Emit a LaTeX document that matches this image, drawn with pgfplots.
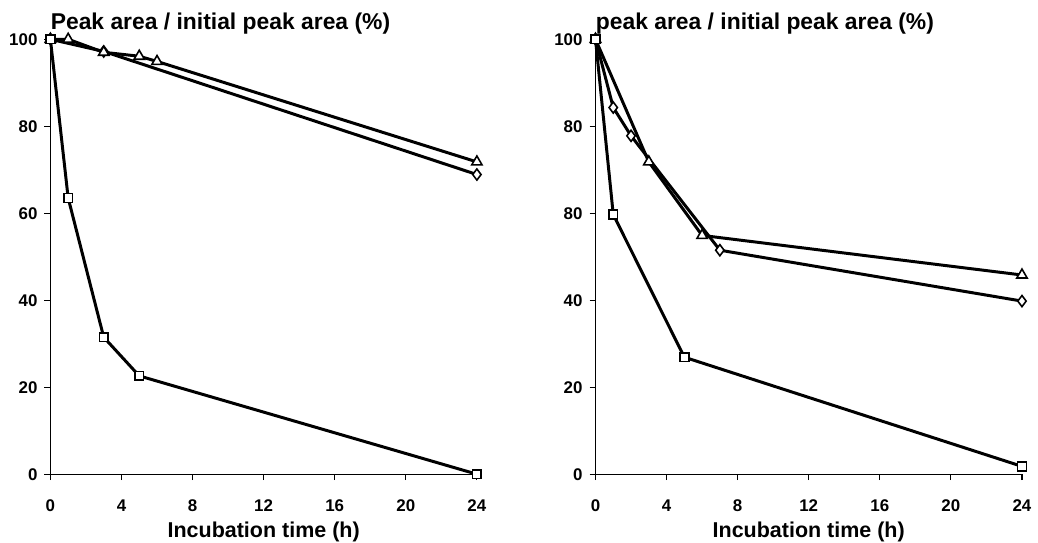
\documentclass[border=0pt]{standalone}
\usepackage{fontspec}
\setmainfont{Liberation Sans}
\usepackage{pgfplots}
\pgfplotsset{compat=1.18}

\pgfplotsset{
  panel/.style={
    scale only axis,
    width=214.5pt, height=218.75pt,
    xmin=0, xmax=24, ymin=0, ymax=100,
    axis x line*=bottom, axis y line*=left,
    axis line style={line width=0.6pt, -},
    xtick={0,4,...,24}, ytick={0,20,...,100},
    tick align=outside, major tick length=3pt,
    tick style={line width=0.6pt, black},
    /pgf/number format/assume math mode=true,
    ticklabel style={font=\fontsize{8.5}{10}\selectfont\bfseries},
    xticklabel style={yshift=-6.5pt},
    title style={at={(axis description cs:0,1)}, anchor=base west,
      yshift=-1.25pt, font=\fontsize{11.5}{13}\selectfont\bfseries, inner sep=0pt},
    xlabel style={at={(axis description cs:0.5,0)}, anchor=base,
      yshift=-32pt, font=\fontsize{10.8}{13}\selectfont\bfseries, inner sep=0pt},
    xlabel={Incubation time (h)},
    clip=false,
  },
  ln/.style={black, line width=1.5pt,
    mark options={solid, draw=black, fill=white, line width=0.8pt}},
  sq/.style={ln, mark=square*, mark size=2.2pt},
  tr/.style={ln, mark=triangle*, mark size=3pt},
  di/.style={ln, mark=diamond*, mark size=2.8pt},
}

\begin{document}
\begin{tikzpicture}
\begin{axis}[panel, at={(0pt,0pt)}, anchor=south west,
  title={Peak area / initial peak area (\%)}]
\addplot[di] coordinates {(0,100) (3,97.2) (24,68.9)};
\addplot[tr] coordinates {(0,100) (1,100) (3,97) (5,96.1) (6,94.9) (24,71.8)};
\addplot[sq] coordinates {(0,100) (1,63.5) (3,31.5) (5,22.6) (24,0)};
\end{axis}

\begin{axis}[panel, at={(274.15pt,0pt)}, anchor=south west,
  yticklabels={0,20,40,80,80,100},
  title={peak area / initial peak area (\%)}]
\addplot[di] coordinates {(0,100) (1,84.3) (2,77.8) (7,51.5) (24,39.8)};
\addplot[tr] coordinates {(0,100) (3,71.8) (6,54.9) (24,45.8)};
\addplot[sq] coordinates {(0,100) (1,59.7) (5,26.9) (24,1.8)};
\end{axis}

\useasboundingbox (-25.35pt,-31.5pt) rectangle (493.65pt,238.5pt);
\end{tikzpicture}
\end{document}
